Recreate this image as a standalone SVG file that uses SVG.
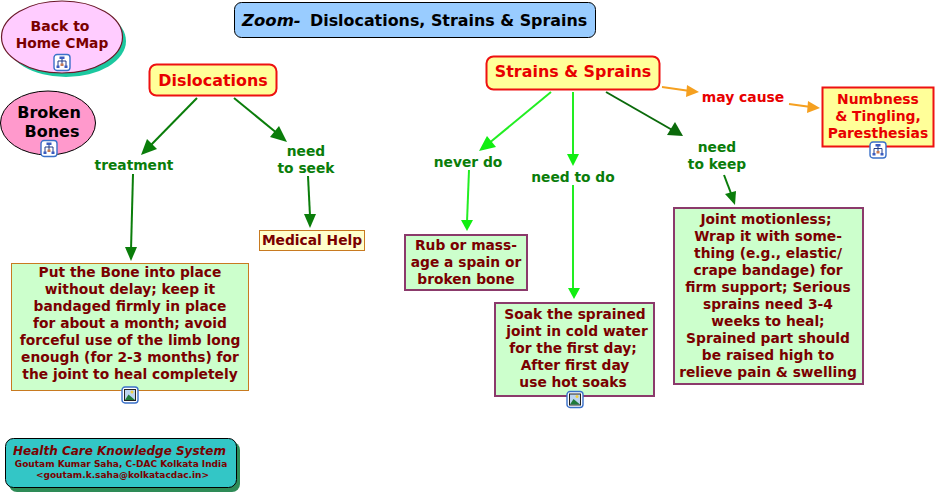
<svg xmlns="http://www.w3.org/2000/svg" width="935" height="494" viewBox="0 0 935 494">
<style>
text{font-family:"DejaVu Sans",Verdana,sans-serif;font-weight:700;text-anchor:middle}
.m{font-size:13.8px;fill:#7a0000}
.l{font-size:13.8px;fill:#0a7d0a}
.h{font-size:15.9px;fill:#e80000}
.r{font-size:13.9px;fill:#e80000}
.c{fill:#ffff99;stroke:#ee1111;stroke-width:2}
.g{fill:#ccffcc;stroke:#8b3a6b;stroke-width:2}
.dg{stroke:#0a7d0a;stroke-width:2;fill:none}
.lg{stroke:#22ee22;stroke-width:2;fill:none}
.or{stroke:#f5a020;stroke-width:2;fill:none}
.adg{fill:#0a7d0a}.alg{fill:#11ee11}.aor{fill:#f5a020}
</style>
<defs>
<g id="tree"><rect x="0.5" y="0.5" width="16" height="16" rx="3" fill="#fff" stroke="#3a70c8" stroke-width="1.400"/><path d="M8.500 4V7M4.500 12V7H12.500V12M8.500 7V10" stroke="#223c88" fill="none"/><rect x="6" y="2.500" width="5" height="2.500" fill="#3a5cc0"/><rect x="3" y="11.500" width="3" height="2.500" fill="#3a5cc0"/><rect x="7" y="9.500" width="3" height="2.500" fill="#c87a50"/><rect x="11" y="11.500" width="3" height="2.500" fill="#3a5cc0"/></g>
<g id="pic"><rect x="0.500" y="0.500" width="16" height="16" rx="3" fill="#fff" stroke="#3a70c8" stroke-width="1.400"/><rect x="3" y="3" width="11" height="11" fill="#bcd4f0" stroke="#222"/><circle cx="10.500" cy="5.500" r="1.500" fill="#f0d040"/><path d="M3.500 13.500L7 8L13.500 13.500Z" fill="#1f7a3a"/></g>
</defs>
<g id="connectors">
<path class="dg" d="M197 98L150 146"/><path class="adg" d="M141 155L147 139L157 149Z"/>
<path class="dg" d="M234 98L278 134"/><path class="adg" d="M287 142L270 137L279 126Z"/>
<path class="dg" d="M133 174L131 250"/><path class="adg" d="M131 261L125 247L137 247Z"/>
<path class="dg" d="M308 176L310 216"/><path class="adg" d="M310 228L304 214L316 214Z"/>
<path class="lg" d="M551 92L488 144"/><path class="alg" d="M479 151L487 136L496 147Z"/>
<path class="lg" d="M573 92L573 156"/><path class="alg" d="M573 166L567 154L579 154Z"/>
<path class="dg" d="M606 92L674 131" style="stroke:#0a6a0a"/><path style="fill:#0a6a0a" d="M683 136L667 135L675 122Z"/>
<path class="lg" d="M469 170L467 222"/><path class="alg" d="M467 231L461 220L473 220Z"/>
<path class="lg" d="M573 185L573 289"/><path class="alg" d="M574 299L568 288L580 288Z"/>
<path class="dg" d="M724 175L732 196"/><path class="adg" d="M735 205L725 194L736 191Z"/>
<path class="or" d="M662 87L690 91"/><path class="aor" d="M699 92L686 97L687 85Z"/>
<path class="or" d="M789 104L811 107"/><path class="aor" d="M820 108L807 113L808 101Z"/>
</g>
<g id="title"><rect x="234.500" y="2.500" width="361" height="35" rx="7" fill="#99ccff" stroke="#000"/><text x="242" y="26" style="font-size:16.500px;font-style:italic;fill:#000;text-anchor:start">Zoom-</text><text x="310" y="26" style="font-size:15.900px;fill:#000;text-anchor:start">Dislocations, Strains &amp; Sprains</text></g>
<g id="home"><ellipse cx="66" cy="41" rx="60" ry="36" fill="#1cc8a0"/><ellipse cx="62" cy="37" rx="60.500" ry="36" fill="#ffccff" stroke="#6b1a2a" stroke-width="1.200"/><text class="m" x="60" y="31" style="font-size:14px">Back to</text><text class="m" x="62" y="48">Home CMap</text><use href="#tree" x="53.500" y="54"/></g>
<g id="broken"><ellipse cx="48" cy="123" rx="47.500" ry="32" fill="#ff99cc" stroke="#000"/><text x="49" y="118" style="font-size:16px;fill:#000">Broken</text><text x="52" y="137" style="font-size:16px;fill:#000">Bones</text><use href="#tree" x="40.500" y="140"/></g>
<g id="dislocations"><rect class="c" x="149.500" y="64.500" width="127" height="31" rx="7"/><text class="h" x="213" y="86">Dislocations</text></g>
<g id="strains"><rect class="c" x="486.500" y="56.500" width="173" height="33" rx="7"/><text class="h" x="573" y="77">Strains &amp; Sprains</text></g>
<text class="l" x="134" y="170">treatment</text>
<text class="l" x="306" y="156">need</text><text class="l" x="306" y="173">to seek</text>
<text class="l" x="468" y="167">never do</text>
<text class="l" x="573" y="182">need to do</text>
<text class="l" x="717" y="152">need</text><text class="l" x="717" y="169">to keep</text>
<text class="r" x="743" y="102">may cause</text>
<g id="numbness"><rect x="822.500" y="87.500" width="111" height="59" fill="#ffff99" stroke="#ee1111" stroke-width="2"/><text class="r" x="878" y="104">Numbness</text><text class="r" x="878" y="121">&amp; Tingling,</text><text class="r" x="878" y="138">Paresthesias</text><use href="#tree" x="869.500" y="141.500"/></g>
<g id="medical"><rect x="259.500" y="230.500" width="105" height="20" fill="#ffffcc" stroke="#c87a20"/><text class="m" x="312" y="245">Medical Help</text></g>
<g id="bone"><rect x="11.500" y="263.500" width="237" height="127" fill="#ccffcc" stroke="#c87a20"/><text class="m"><tspan x="130" y="277">Put the Bone into place</tspan><tspan x="130" y="294">without delay; keep it</tspan><tspan x="130" y="311">bandaged firmly in place</tspan><tspan x="130" y="328">for about a month; avoid</tspan><tspan x="130" y="345">forceful use of the limb long</tspan><tspan x="130" y="362">enough (for 2-3 months) for</tspan><tspan x="130" y="379">the joint to heal completely</tspan></text><use href="#pic" x="121.500" y="386.500"/></g>
<g id="rub"><rect class="g" x="405" y="235" width="122" height="55"/><text class="m"><tspan x="466" y="250">Rub or mass-</tspan><tspan x="466" y="267">age a spain or</tspan><tspan x="466" y="284">broken bone</tspan></text></g>
<g id="soak"><rect class="g" x="495" y="303" width="159" height="93"/><text class="m"><tspan x="575" y="319">Soak the sprained</tspan><tspan x="577" y="336">joint in cold water</tspan><tspan x="573" y="353">for the first day;</tspan><tspan x="575" y="370">After first day</tspan><tspan x="573" y="387">use hot soaks</tspan></text><use href="#pic" x="566.500" y="391"/></g>
<g id="joint"><rect class="g" x="674" y="208" width="189" height="176"/><text class="m"><tspan x="766" y="224">Joint motionless;</tspan><tspan x="768" y="241">Wrap it with some-</tspan><tspan x="768" y="258">thing (e.g., elastic/</tspan><tspan x="768" y="275">crape bandage) for</tspan><tspan x="768" y="292">firm support; Serious</tspan><tspan x="768" y="309">sprains need 3-4</tspan><tspan x="768" y="326">weeks to heal;</tspan><tspan x="768" y="343">Sprained part should</tspan><tspan x="768" y="360">be raised high to</tspan><tspan x="768" y="377">relieve pain &amp; swelling</tspan></text></g>
<g id="credit"><rect x="9" y="442" width="231" height="50" rx="8" fill="#2e8b57"/><rect x="5.500" y="438.500" width="231" height="49" rx="8" fill="#33c6c6" stroke="#000"/><text x="119.500" y="455" style="font-size:12px;font-style:italic;fill:#7a0000">Health Care Knowledge System</text><text x="121" y="467" style="font-size:9px;fill:#7a0000">Goutam Kumar Saha, C-DAC Kolkata India</text><text x="122.500" y="478" style="font-size:9px;fill:#7a0000">&lt;goutam.k.saha@kolkatacdac.in&gt;</text></g>
</svg>
